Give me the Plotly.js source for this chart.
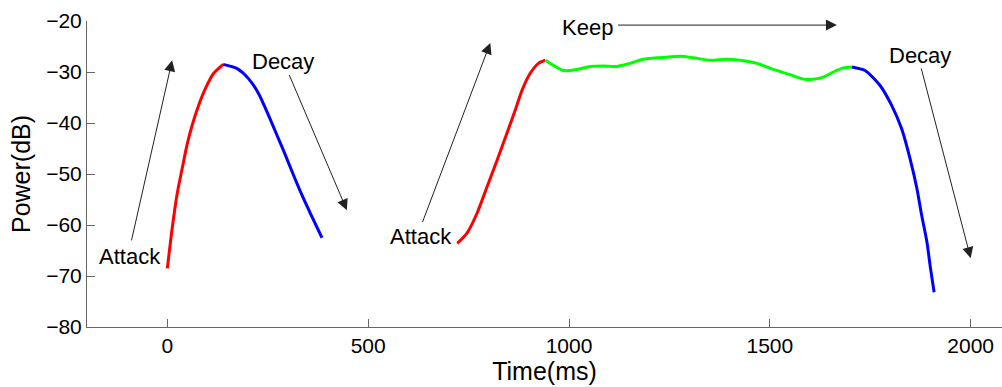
<!DOCTYPE html>
<html>
<head>
<meta charset="utf-8">
<script src="https://cdn.plot.ly/plotly-3.0.1.min.js"></script>
<style>html,body{margin:0;padding:0;background:#fff;}#chart{width:1002px;height:387px;}</style>
</head>
<body>
<div id="chart"></div>
<script>
// ---- data ----
var attack1X = [0, 12, 24, 37, 49, 62, 78, 95, 115, 139];
var attack1Y = [-68.5, -60.7, -54.1, -48.9, -44.3, -40.4, -36.5, -33.2, -30.3, -28.5];

var decay1X = [139, 173, 202, 227, 252, 273, 294, 314, 335, 356, 385];
var decay1Y = [-28.5, -29.3, -31.3, -34.2, -38.5, -42.4, -46.3, -50.2, -54.1, -57.7, -62.5];

var attack2X = [722, 746, 771, 796, 821, 845, 866, 883, 903, 924, 941];
var attack2Y = [-63.6, -61.6, -57.7, -52.5, -47.3, -42.1, -37.5, -33.6, -30.3, -28.3, -27.7];

var keepX = [941, 961, 986, 1020, 1053, 1086, 1119, 1152, 1185, 1219, 1244, 1277, 1310, 1352, 1393, 1426, 1468, 1509, 1550, 1583, 1608, 1633, 1658, 1683, 1704];
var keepY = [-27.7, -28.7, -29.7, -29.5, -28.9, -28.8, -28.9, -28.3, -27.5, -27.2, -27.1, -26.9, -27.2, -27.7, -27.5, -27.7, -28.3, -29.5, -30.5, -31.4, -31.4, -31.0, -30.0, -29.2, -29.0];

var decay2X = [1704, 1737, 1774, 1803, 1828, 1849, 1866, 1878, 1891, 1900, 1909];
var decay2Y = [-29.0, -29.7, -32.6, -36.5, -41.1, -47.0, -52.8, -58.1, -63.3, -68.5, -73.2];

var xTickVals = [0, 500, 1000, 1500, 2000];
var yTickVals = [-80, -70, -60, -50, -40, -30, -20];

// annotation labels and their anchor points (data units)
var labelText = ['Attack', 'Decay', 'Attack', 'Keep', 'Decay'];
var labelX = [-92, 288, 632, 1046, 1875];
var labelY = [-66.1, -28.0, -62.2, -21.2, -26.7];
// arrows: tail -> head
var arrowTailX = [-90, 302, 634, 1118, 1876];
var arrowTailY = [-63.3, -30.3, -59.7, -20.8, -29.0];
var arrowHeadX = [12, 447, 804, 1667, 2000];
var arrowHeadY = [-27.7, -57.1, -24.3, -20.8, -66.5];

var lineW = 3;
function seg(x, y, color) {
  return {x: x, y: y, type: 'scatter', mode: 'lines',
          line: {color: color, width: lineW, shape: 'spline', smoothing: 0.7},
          hoverinfo: 'skip', showlegend: false};
}
var traces = [
  seg(attack1X, attack1Y, '#ff0000'),
  seg(decay1X, decay1Y, '#0000ff'),
  seg(attack2X, attack2Y, '#ff0000'),
  seg(keepX, keepY, '#00ff00'),
  seg(decay2X, decay2Y, '#0000ff')
];

var font = 'Liberation Sans, Arial, sans-serif';
var annotations = [];
for (var i = 0; i < labelText.length; i++) {
  annotations.push({
    x: labelX[i], y: labelY[i], xref: 'x', yref: 'y',
    text: labelText[i], showarrow: false,
    font: {family: font, size: 22, color: '#000'},
    xanchor: 'center', yanchor: 'middle'
  });
  annotations.push({
    x: arrowHeadX[i], y: arrowHeadY[i], xref: 'x', yref: 'y',
    ax: arrowTailX[i], ay: arrowTailY[i], axref: 'x', ayref: 'y',
    text: '', showarrow: true, arrowhead: 2, arrowsize: 2.2, arrowwidth: 1,
    arrowcolor: '#222', standoff: 0, startstandoff: 0
  });
}

var layout = {
  width: 1002, height: 387,
  margin: {l: 87, r: 0, t: 21, b: 60, pad: 0},
  paper_bgcolor: '#fff', plot_bgcolor: '#fff',
  showlegend: false,
  font: {family: font, color: '#000'},
  xaxis: {
    range: [-200, 2078], tickvals: xTickVals, ticks: 'inside', ticklen: 8,
    tickcolor: '#666', tickwidth: 1, showgrid: false, zeroline: false,
    showline: true, linecolor: '#666', linewidth: 1,
    tickfont: {family: font, size: 21, color: '#000'},
    title: {text: 'Time(ms)', font: {family: font, size: 25, color: '#000'}, standoff: 4}
  },
  yaxis: {
    range: [-80, -20], tickvals: yTickVals, ticks: 'inside', ticklen: 8,
    tickcolor: '#666', tickwidth: 1, showgrid: false, zeroline: false,
    showline: true, linecolor: '#666', linewidth: 1,
    tickfont: {family: font, size: 21, color: '#000'},
    title: {text: 'Power(dB)', font: {family: font, size: 25, color: '#000'}, standoff: 8}
  },
  annotations: annotations
};

Plotly.newPlot('chart', traces, layout, {staticPlot: true, displayModeBar: false});
</script>
</body>
</html>
